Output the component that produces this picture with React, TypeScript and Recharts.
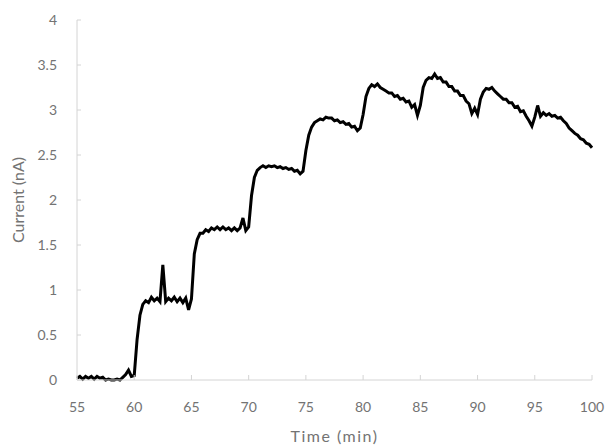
import React from "react";
import { LineChart, Line, XAxis, YAxis, Label } from "recharts";

// sample times (min)
const time = [
	55, 55.25, 55.5, 55.75, 56, 56.25, 56.5, 56.75, 57, 57.25, 57.5, 57.75,
	58, 58.25, 58.5, 58.75, 59, 59.25, 59.5, 59.75, 60, 60.25, 60.5, 60.75,
	61, 61.25, 61.5, 61.75, 62, 62.25, 62.5, 62.75, 63, 63.25, 63.5, 63.75,
	64, 64.25, 64.5, 64.75, 65, 65.25, 65.5, 65.75, 66, 66.25, 66.5, 66.75,
	67, 67.25, 67.5, 67.75, 68, 68.25, 68.5, 68.75, 69, 69.25, 69.5, 69.75,
	70, 70.25, 70.5, 70.75, 71, 71.25, 71.5, 71.75, 72, 72.25, 72.5, 72.75,
	73, 73.25, 73.5, 73.75, 74, 74.25, 74.5, 74.75, 75, 75.25, 75.5, 75.75,
	76, 76.25, 76.5, 76.75, 77, 77.25, 77.5, 77.75, 78, 78.25, 78.5, 78.75,
	79, 79.25, 79.5, 79.75, 80, 80.25, 80.5, 80.75, 81, 81.25, 81.5, 81.75,
	82, 82.25, 82.5, 82.75, 83, 83.25, 83.5, 83.75, 84, 84.25, 84.5, 84.75,
	85, 85.25, 85.5, 85.75, 86, 86.25, 86.5, 86.75, 87, 87.25, 87.5, 87.75,
	88, 88.25, 88.5, 88.75, 89, 89.25, 89.5, 89.75, 90, 90.25, 90.5, 90.75,
	91, 91.25, 91.5, 91.75, 92, 92.25, 92.5, 92.75, 93, 93.25, 93.5, 93.75,
	94, 94.25, 94.5, 94.75, 95, 95.25, 95.5, 95.75, 96, 96.25, 96.5, 96.75,
	97, 97.25, 97.5, 97.75, 98, 98.25, 98.5, 98.75, 99, 99.25, 99.5, 99.75,
	100,
];

const current = [
	0.02, 0.04, 0.01, 0.04, 0.02, 0.04, 0.01, 0.04, 0.02, 0.03, 0.0, 0.01,
	0.0, 0.0, 0.01, 0.0, 0.03, 0.06, 0.11, 0.04, 0.05, 0.45, 0.72, 0.84,
	0.88, 0.86, 0.92, 0.88, 0.91, 0.87, 1.28, 0.87, 0.91, 0.88, 0.92, 0.87,
	0.91, 0.86, 0.91, 0.78, 0.9, 1.4, 1.56, 1.63, 1.63, 1.67, 1.65, 1.69,
	1.67, 1.7, 1.67, 1.7, 1.67, 1.69, 1.66, 1.69, 1.66, 1.69, 1.8, 1.66,
	1.7, 2.05, 2.25, 2.33, 2.36, 2.38, 2.36, 2.38, 2.37, 2.38, 2.36, 2.37,
	2.35, 2.36, 2.34, 2.35, 2.32, 2.33, 2.29, 2.32, 2.55, 2.72, 2.81, 2.86,
	2.88, 2.9, 2.89, 2.92, 2.91, 2.91, 2.88, 2.89, 2.86, 2.87, 2.84, 2.85,
	2.81, 2.82, 2.77, 2.8, 2.95, 3.15, 3.24, 3.28, 3.26, 3.29, 3.25, 3.23,
	3.21, 3.19, 3.19, 3.15, 3.16, 3.12, 3.13, 3.09, 3.1, 3.03, 3.06, 2.94,
	3.05, 3.25, 3.33, 3.36, 3.35, 3.4, 3.35, 3.36, 3.31, 3.31, 3.26, 3.26,
	3.21, 3.21, 3.16, 3.16, 3.1, 3.07, 2.96, 3.02, 2.95, 3.12, 3.2, 3.24,
	3.23, 3.25, 3.21, 3.18, 3.15, 3.12, 3.12, 3.08, 3.08, 3.03, 3.04, 2.98,
	2.99, 2.93, 2.88, 2.82, 2.92, 3.05, 2.93, 2.97, 2.94, 2.96, 2.93, 2.94,
	2.91, 2.92, 2.88, 2.85, 2.8, 2.77, 2.74, 2.72, 2.68, 2.67, 2.63, 2.62,
	2.58,
];

const xTicks = [55, 60, 65, 70, 75, 80, 85, 90, 95, 100];
const yTicks = [0, 0.5, 1, 1.5, 2, 2.5, 3, 3.5, 4];

const rows = time.map((t, i) => ({ t, current: current[i] }));

const font = "Lato, 'Open Sans', sans-serif";
const textColor = "#737373";
const axisColor = "#d4d4d4";

const XTick = ({ x, y, payload }: any) => (
	<g>
		<line x1={x} x2={x} y1={y - 5} y2={y} stroke={axisColor} />
		<text
			x={x}
			y={y + 32}
			textAnchor="middle"
			fill={textColor}
			fontSize={14}
			fontFamily={font}
		>
			{payload.value}
		</text>
	</g>
);

const YTick = ({ x, y, payload }: any) => (
	<g>
		<line x1={x} x2={x + 4} y1={y} y2={y} stroke={axisColor} />
		<text
			x={x - 20}
			y={y + 5}
			textAnchor="end"
			fill={textColor}
			fontSize={14}
			fontFamily={font}
		>
			{payload.value}
		</text>
	</g>
);

export default function App() {
	return (
		<div style={{ position: "absolute", left: 0, top: 0, background: "#fff" }}>
			<LineChart
				width={606}
				height={445}
				data={rows}
				margin={{ top: 20, right: 14, left: 0, bottom: 0 }}
			>
				<XAxis
					dataKey="t"
					type="number"
					domain={[55, 100]}
					ticks={xTicks}
					interval={0}
					height={65}
					stroke={axisColor}
					tickLine={false}
					tickSize={0}
					tickMargin={0}
					tick={XTick}
				>
					<Label
						value="Time (min)"
						position="insideBottom"
						offset={3}
						fill={textColor}
						fontSize={16}
						fontFamily={font}
						letterSpacing={1.5}
					/>
				</XAxis>
				<YAxis
					type="number"
					domain={[0, 4]}
					ticks={yTicks}
					interval={0}
					width={77}
					stroke={axisColor}
					tickLine={false}
					tickSize={0}
					tickMargin={0}
					tick={YTick}
				>
					<Label
						value="Current (nA)"
						angle={-90}
						position="insideLeft"
						offset={18}
						fill={textColor}
						fontSize={16}
						fontFamily={font}
						style={{ textAnchor: "middle" }}
					/>
				</YAxis>
				<Line
					type="linear"
					dataKey="current"
					stroke="#000"
					strokeWidth={3}
					dot={false}
					isAnimationActive={false}
				/>
			</LineChart>
		</div>
	);
}
